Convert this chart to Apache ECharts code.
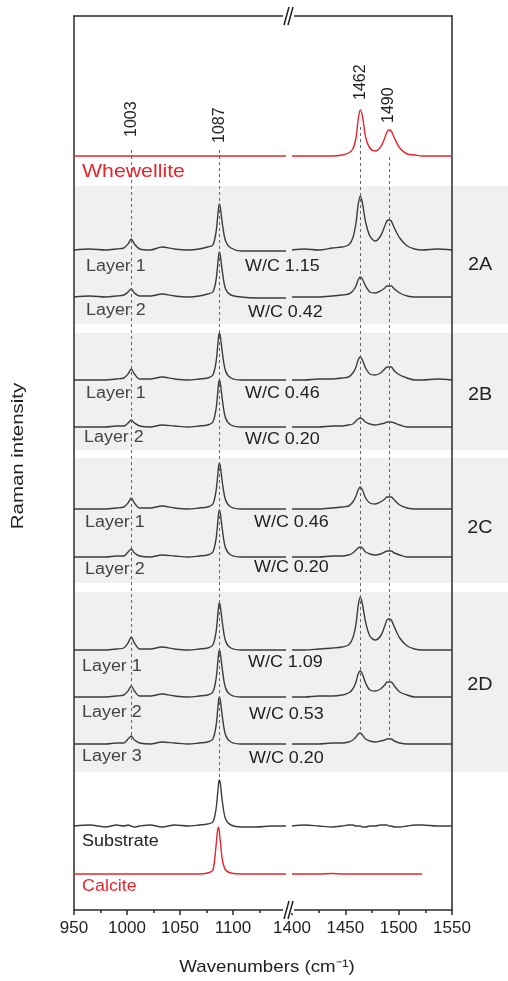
<!DOCTYPE html>
<html>
<head>
<meta charset="utf-8">
<script src="https://cdn.jsdelivr.net/npm/echarts@6/dist/echarts.min.js"></script>
<style>
  html, body { margin: 0; padding: 0; background: #fff; }
  #chart { width: 508px; height: 981px; }
</style>
</head>
<body>
<div id="chart"></div>
<script>
// wavenumber samples, left (950-1150) and right (1400-1550) part of the broken axis
const waveLeft = [950, 965, 980, 990, 997, 1001, 1004, 1007, 1012, 1022, 1033, 1045, 1058, 1068, 1076, 1081, 1084, 1086, 1087, 1088, 1090, 1093, 1098, 1108, 1122, 1136, 1150];
const waveRight = [1400, 1412, 1425, 1438, 1447, 1453, 1457, 1460, 1462, 1464, 1466, 1469, 1473, 1478, 1483, 1487, 1489, 1491, 1493, 1496, 1501, 1508, 1515, 1522, 1536, 1550];

// intensities above each baseline (a.u.)
const whewelliteL = [0,0,0,0,0,0,0,0,0,0,0,0,0,0,0,0,0,0,0,0,0,0,0,0,0,0,0];
const whewelliteR = [0,0,0,0,1,3,7,18,36,46,40,19,8,5,9,18,24,26,25,18,8,2,1,0,0,0];
const a1L = [0,1,0,1,2,6,11,6,1,0,3,1,0,1,3,5,18,38,46,43,26,9,2,-1,-1,-1,-1];
const a1R = [0,1,0,2,3,5,12,27,45,54,47,28,14,9,14,24,29,30,29,22,12,4,1,0,1,0];
const a2L = [0,1,0,1,2,5,8,4,1,1,3,1,0,1,3,5,17,37,45,42,25,8,2,0,-1,-1,-1];
const a2R = [0,0,0,1,2,3,6,11,17,20,18,11,5,4,6,9,11,11,11,8,4,1,0,0,0,0];
const b1L = [0,0,0,1,2,6,11,6,1,1,3,1,0,1,2,5,18,39,47,44,27,9,2,0,0,0,0];
const b1R = [0,0,1,1,2,3,7,13,20,23,20,12,6,5,7,11,13,13,13,9,5,2,0,0,1,0];
const b2L = [0,0,0,1,1,4,7,4,1,0,2,1,0,1,2,5,18,39,47,44,27,9,2,0,0,0,0];
const b2R = [0,0,0,1,1,2,3,6,8,9,8,5,3,2,3,4,5,5,5,4,2,0,0,0,0,0];
const c1L = [0,0,0,1,2,6,11,6,1,1,3,1,0,1,2,5,18,38,46,43,26,9,2,0,0,0,0];
const c1R = [0,0,0,1,2,3,7,13,19,22,19,11,6,5,7,10,12,12,12,9,4,1,0,0,0,0];
const c2L = [0,0,0,1,1,5,8,4,1,0,2,1,0,1,2,5,18,39,47,44,27,9,2,0,0,0,0];
const c2R = [0,0,0,1,1,2,4,7,9,10,9,5,3,2,3,5,6,6,6,4,2,0,0,0,0,0];
const d1L = [0,0,0,1,2,7,13,7,1,1,3,1,0,1,2,5,18,39,47,44,27,9,2,0,0,0,0];
const d1R = [0,0,1,2,3,5,12,26,44,53,46,28,14,10,14,24,30,31,30,23,12,4,1,0,0,0];
const d2L = [0,0,0,1,2,6,11,6,1,1,3,1,0,1,2,5,18,39,47,44,27,9,2,0,0,0,0];
const d2R = [0,0,1,1,2,4,8,15,23,26,23,14,7,6,8,12,15,15,15,11,5,2,0,0,0,0];
const d3L = [0,0,0,1,1,5,8,4,1,0,2,1,0,1,2,5,18,39,47,44,27,9,2,0,0,0,0];
const d3R = [0,0,0,1,1,2,4,7,10,11,9,5,3,2,3,4,5,5,5,3,1,0,0,0,0,0];
const substrateL = [0,1,-1,1,0,1,0,-1,0,1,-1,1,0,1,2,4,17,38,46,43,24,7,1,-1,-1,0,0];
const substrateR = [0,1,0,-1,0,1,1,0,0,0,-1,-1,0,0,1,1,1,0,0,-1,-1,0,1,1,0,0];
const calciteL = [0,0,0,0,0,0,0,0,0,0,0,0,0,0,1,4,28,47,43,33,14,4,1,0,0,0,0];
const calciteR = [0,0,0,0.5,0,0,0,0,0,0,0,0,0,0,0,0,0,0,0,0,0,0,0,0,null,null];

// spectra, stacked with vertical offsets
const spectra = [
  { name: 'Whewellite', offset: 754, left: whewelliteL, right: whewelliteR, red: true },
  { name: '2A Layer 1', offset: 660, left: a1L, right: a1R },
  { name: '2A Layer 2', offset: 613, left: a2L, right: a2R },
  { name: '2B Layer 1', offset: 530, left: b1L, right: b1R },
  { name: '2B Layer 2', offset: 483, left: b2L, right: b2R },
  { name: '2C Layer 1', offset: 401, left: c1L, right: c1R },
  { name: '2C Layer 2', offset: 353, left: c2L, right: c2R },
  { name: '2D Layer 1', offset: 260, left: d1L, right: d1R },
  { name: '2D Layer 2', offset: 213, left: d2L, right: d2R },
  { name: '2D Layer 3', offset: 166, left: d3L, right: d3R },
  { name: 'Substrate', offset: 84, left: substrateL, right: substrateR },
  { name: 'Calcite', offset: 36, left: calciteL, right: calciteR, red: true }
];

// marked peaks: label, drawn position, dashed line top / bottom
const peakLabels = ['1003', '1087', '1462', '1490'];
const peakPos = [1004, 1087, 1464, 1491];
const peakTop = [760, 760, 783, 753];
const peakBottom = [170, 130, 177, 171];

const leftTicks = [950, 1000, 1050, 1100];

const FONT = "'Liberation Sans', Arial, sans-serif";
const TICKFONT = "'Liberation Sans Narrow', 'Arial Narrow', 'Liberation Sans', Arial, sans-serif";
const RED = '#e8262d';
const GREY = '#3c3c3c';

var chart = echarts.init(document.getElementById('chart'));

var series = [];
spectra.forEach(function (s) {
  var style = { color: s.red ? RED : GREY, width: 1.4 };
  series.push({
    name: s.name, type: 'line', xAxisIndex: 0, yAxisIndex: 0,
    data: waveLeft.map(function (w, i) { return [w, s.left[i] == null ? null : s.offset + s.left[i]]; }),
    showSymbol: false, smooth: 0.3, lineStyle: style, itemStyle: { color: style.color }, z: 3
  });
  series.push({
    name: s.name, type: 'line', xAxisIndex: 1, yAxisIndex: 1,
    data: waveRight.map(function (w, i) { return [w, s.right[i] == null ? null : s.offset + s.right[i]]; }),
    showSymbol: false, smooth: 0.3, lineStyle: style, itemStyle: { color: style.color }, z: 3
  });
});

// dashed peak lines
function peakLines(gridIdx) {
  var out = [];
  peakPos.forEach(function (p, i) {
    var onLeft = p < 1200;
    if ((gridIdx === 0) === onLeft) {
      out.push([{ coord: [p, peakTop[i]] }, { coord: [p, peakBottom[i]] }]);
    }
  });
  return out;
}
[0, 1].forEach(function (g) {
  series.push({
    type: 'line', xAxisIndex: g, yAxisIndex: g, data: [], z: 2,
    markLine: {
      silent: true, symbol: 'none', animation: false,
      label: { show: false },
      lineStyle: { color: '#666', width: 1, type: [3, 3] },
      data: peakLines(g)
    }
  });
});

var axisLineStyle = { color: '#2a2a2a', width: 1.5 };
var tickLabel = { margin: 10, fontSize: 17, color: '#222', fontFamily: TICKFONT, formatter: function (v) { return String(v); } };

var option = {
  backgroundColor: '#fff',
  animation: false,
  grid: [
    { left: 74, width: 212, top: 16, bottom: 71 },
    { left: 292, right: 56, top: 16, bottom: 71 }
  ],
  xAxis: [
    {
      type: 'value', gridIndex: 0, min: 950, max: 1150, interval: 50,
      axisLine: { show: true, onZero: false, lineStyle: axisLineStyle },
      axisTick: { show: true, customValues: leftTicks, length: 5, lineStyle: axisLineStyle },
      minorTick: { show: true, splitNumber: 2, length: 3, lineStyle: { color: '#2a2a2a', width: 1.5 } },
      axisLabel: Object.assign({ customValues: leftTicks }, tickLabel),
      splitLine: { show: false }
    },
    {
      type: 'value', gridIndex: 1, min: 1400, max: 1550, interval: 50,
      axisLine: { show: true, onZero: false, lineStyle: axisLineStyle },
      axisTick: { show: true, length: 5, lineStyle: axisLineStyle },
      minorTick: { show: true, splitNumber: 2, length: 3, lineStyle: { color: '#2a2a2a', width: 1.5 } },
      axisLabel: tickLabel,
      splitLine: { show: false }
    },
    {
      type: 'value', gridIndex: 0, position: 'top', min: 950, max: 1150,
      axisLine: { show: true, onZero: false, lineStyle: axisLineStyle },
      axisTick: { show: false }, axisLabel: { show: false }, splitLine: { show: false }
    },
    {
      type: 'value', gridIndex: 1, position: 'top', min: 1400, max: 1550,
      axisLine: { show: true, onZero: false, lineStyle: axisLineStyle },
      axisTick: { show: false }, axisLabel: { show: false }, splitLine: { show: false }
    }
  ],
  yAxis: [
    {
      type: 'value', gridIndex: 0, min: 0, max: 894, position: 'left',
      axisLine: { show: true, onZero: false, lineStyle: axisLineStyle },
      axisTick: { show: false }, axisLabel: { show: false }, splitLine: { show: false }
    },
    {
      type: 'value', gridIndex: 1, min: 0, max: 894, position: 'right',
      axisLine: { show: true, onZero: false, lineStyle: axisLineStyle },
      axisTick: { show: false }, axisLabel: { show: false }, splitLine: { show: false }
    }
  ],
  series: series
};
chart.setOption(option);

// decorations: grey sample bands, labels, axis-break marks
var bands = [[186, 324], [333, 450], [458, 583], [592, 772]];
var groupLabels = [['2A', 265], ['2B', 395], ['2C', 528], ['2D', 685]];
var textLabels = [
  ['Whewellite', 82, 172, RED, 19],
  ['Layer 1', 86, 267, '#444', 16], ['W/C 1.15', 245, 267, '#222', 16],
  ['Layer 2', 86, 311, '#444', 16], ['W/C 0.42', 248, 313, '#222', 16],
  ['Layer 1', 86, 394, '#444', 16], ['W/C 0.46', 245, 394, '#222', 16],
  ['Layer 2', 84, 438, '#444', 16], ['W/C 0.20', 245, 440, '#222', 16],
  ['Layer 1', 85, 523, '#444', 16], ['W/C 0.46', 254, 523, '#222', 16],
  ['Layer 2', 85, 570, '#444', 16], ['W/C 0.20', 254, 568, '#222', 16],
  ['Layer 1', 82, 667, '#444', 16], ['W/C 1.09', 248, 663, '#222', 16],
  ['Layer 2', 82, 713, '#444', 16], ['W/C 0.53', 249, 715, '#222', 16],
  ['Layer 3', 82, 757, '#444', 16], ['W/C 0.20', 249, 759, '#222', 16],
  ['Substrate', 82, 842, '#222', 16],
  ['Calcite', 82, 887, RED, 16]
];

var graphic = [];
bands.forEach(function (b) {
  graphic.push({ type: 'rect', z: -10, silent: true,
    shape: { x: 74, y: b[0], width: 434, height: b[1] - b[0] },
    style: { fill: '#f0f0f0' } });
});
groupLabels.forEach(function (g) {
  graphic.push({ type: 'text', z: 100, x: 480, y: g[1], scaleX: 1.1,
    style: { text: g[0], fontSize: 18, fontFamily: FONT, fill: '#222', align: 'center', verticalAlign: 'middle' } });
});
textLabels.forEach(function (t) {
  graphic.push({ type: 'text', z: 100, x: t[1], y: t[2], scaleX: 1.12,
    style: { text: t[0], fontSize: t[4], fontFamily: FONT, fill: t[3], align: 'left', verticalAlign: 'middle' } });
});
// axis titles
graphic.push({ type: 'text', z: 100, x: 18, y: 456, rotation: Math.PI / 2, scaleX: 1.2,
  style: { text: 'Raman intensity', fontSize: 17, fontFamily: FONT, fill: '#222', align: 'center', verticalAlign: 'middle' } });
graphic.push({ type: 'text', z: 100, x: 267, y: 967, scaleX: 1.1,
  style: { text: 'Wavenumbers (cm\u207B\u00B9)', fontSize: 17, fontFamily: FONT, fill: '#222', align: 'center', verticalAlign: 'middle' } });
// break marks
[16, 910].forEach(function (y) {
  graphic.push({ type: 'rect', z: 99, silent: true, shape: { x: 283, y: y - 3, width: 11, height: 6 }, style: { fill: '#fff' } });
  [284, 288].forEach(function (x) {
    graphic.push({ type: 'line', z: 100, silent: true,
      shape: { x1: x, y1: y + 9, x2: x + 5, y2: y - 9 },
      style: { stroke: '#222', lineWidth: 1.5 } });
  });
});
// peak labels placed above their dashed lines
var peakLabelBottom = [137, 143, 100, 123];
peakPos.forEach(function (p, i) {
  var px = chart.convertToPixel({ xAxisIndex: p < 1200 ? 0 : 1 }, p);
  graphic.push({ type: 'text', z: 100, x: px, y: peakLabelBottom[i], rotation: Math.PI / 2,
    style: { text: peakLabels[i], fontSize: 16, fontFamily: FONT, fill: '#222', align: 'left', verticalAlign: 'middle' } });
});

chart.setOption({ graphic: graphic });
</script>
</body>
</html>
